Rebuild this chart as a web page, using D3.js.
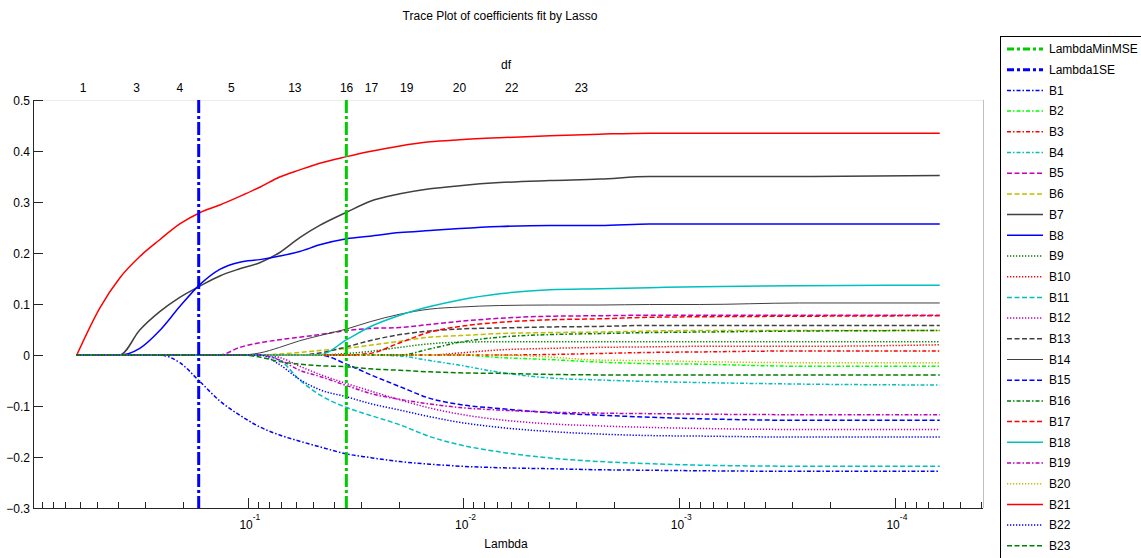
<!DOCTYPE html>
<html>
<head>
<meta charset="utf-8">
<script src="https://cdn.jsdelivr.net/npm/d3@7"></script>
<style>
  body { margin: 0; background: #fff; }
  svg text { font-family: "Liberation Sans", Arial, Helvetica, sans-serif; fill: #000; }
</style>
</head>
<body>
<div id="chart"></div>
<script>
// lambda grid (descending)
var lambdas = [0.6204, 0.4854, 0.3921, 0.3167, 0.2559, 0.2066, 0.1669, 0.1348, 0.1089, 0.0880,
  0.0711, 0.0574, 0.0464, 0.0348, 0.0272, 0.0197, 0.0143, 0.0104, 0.00679, 0.00398,
  0.00233, 0.00137, 0.000803, 0.000276, 0.0000619];

// coefficient traces, one value per lambda
var B1  = [0, 0, 0, 0, 0, -0.015, -0.052, -0.090, -0.118, -0.141, -0.157, -0.169, -0.180, -0.194, -0.201, -0.209, -0.214, -0.218, -0.221, -0.223, -0.225, -0.226, -0.227, -0.228, -0.228];
var B2  = [0, 0, 0, 0, 0, 0, 0, 0, 0, 0, 0, 0, 0, 0, 0, 0, 0, 0, -0.005, -0.009, -0.014, -0.017, -0.018, -0.022, -0.022];
var B3  = [0, 0, 0, 0, 0, 0, 0, 0, 0, 0, 0, 0, 0, 0, 0, 0, 0, 0, 0, 0.001, 0.003, 0.005, 0.006, 0.008, 0.008];
var B4  = [0, 0, 0, 0, 0, 0, 0, 0, 0, 0, 0, 0, 0, 0, 0, -0.002, -0.011, -0.020, -0.034, -0.045, -0.049, -0.052, -0.054, -0.057, -0.059];
var B5  = [0, 0, 0, 0, 0, 0, 0, 0, 0.015, 0.024, 0.030, 0.035, 0.040, 0.048, 0.052, 0.054, 0.060, 0.066, 0.072, 0.076, 0.077, 0.078, 0.078, 0.078, 0.078];
var B6  = [0, 0, 0, 0, 0, 0, 0, 0, 0, 0, 0.002, 0.005, 0.009, 0.013, 0.019, 0.027, 0.035, 0.038, 0.042, 0.044, 0.045, 0.047, 0.048, 0.048, 0.048];
var B7  = [0, 0, 0, 0.049, 0.085, 0.113, 0.135, 0.155, 0.169, 0.181, 0.201, 0.230, 0.254, 0.280, 0.301, 0.316, 0.326, 0.332, 0.338, 0.342, 0.345, 0.350, 0.350, 0.350, 0.352];
var B8  = [0, 0, 0, 0.013, 0.048, 0.095, 0.138, 0.168, 0.182, 0.187, 0.194, 0.203, 0.216, 0.228, 0.233, 0.240, 0.244, 0.248, 0.252, 0.254, 0.254, 0.257, 0.257, 0.257, 0.257];
var B9  = [0, 0, 0, 0, 0, 0, 0, 0, 0, 0, 0, 0, 0, 0.003, 0.007, 0.015, 0.022, 0.025, 0.026, 0.026, 0.026, 0.026, 0.026, 0.026, 0.026];
var B10 = [0, 0, 0, 0, 0, 0, 0, 0, 0, 0, 0, 0, 0, 0, 0, 0, 0, 0.004, 0.010, 0.013, 0.015, 0.016, 0.017, 0.017, 0.020];
var B11 = [0, 0, 0, 0, 0, 0, 0, 0, 0, 0, -0.010, -0.049, -0.078, -0.103, -0.118, -0.137, -0.160, -0.176, -0.190, -0.202, -0.209, -0.213, -0.216, -0.218, -0.218];
var B12 = [0, 0, 0, 0, 0, 0, 0, 0, 0, 0, -0.005, -0.022, -0.038, -0.056, -0.070, -0.088, -0.104, -0.116, -0.127, -0.135, -0.139, -0.142, -0.144, -0.146, -0.146];
var B13 = [0, 0, 0, 0, 0, 0, 0, 0, 0, 0, 0, 0, 0.004, 0.016, 0.028, 0.040, 0.047, 0.051, 0.053, 0.055, 0.056, 0.058, 0.058, 0.058, 0.058];
var B14 = [0, 0, 0, 0, 0, 0, 0, 0, 0, 0.004, 0.015, 0.028, 0.038, 0.051, 0.065, 0.080, 0.090, 0.094, 0.097, 0.098, 0.098, 0.099, 0.099, 0.102, 0.102];
var B15 = [0, 0, 0, 0, 0, 0, 0, 0, 0, 0, 0, 0, 0, -0.018, -0.038, -0.062, -0.085, -0.097, -0.105, -0.113, -0.118, -0.122, -0.125, -0.128, -0.128];
var B16 = [0, 0, 0, 0, 0, 0, 0, 0, 0, 0, 0, 0, 0, 0, 0, 0, 0.012, 0.025, 0.035, 0.040, 0.042, 0.044, 0.045, 0.047, 0.048];
var B17 = [0, 0, 0, 0, 0, 0, 0, 0, 0, 0, 0, 0, 0, 0, 0.003, 0.024, 0.045, 0.056, 0.064, 0.069, 0.071, 0.074, 0.075, 0.076, 0.077];
var B18 = [0, 0, 0, 0, 0, 0, 0, 0, 0, 0, 0, 0, 0, 0.030, 0.055, 0.078, 0.095, 0.108, 0.120, 0.128, 0.130, 0.132, 0.134, 0.136, 0.137];
var B19 = [0, 0, 0, 0, 0, 0, 0, 0, 0, 0, -0.010, -0.030, -0.042, -0.060, -0.075, -0.087, -0.096, -0.103, -0.108, -0.112, -0.114, -0.115, -0.116, -0.117, -0.117];
var B20 = [0, 0, 0, 0, 0, 0, 0, 0, 0, 0, 0, 0, 0, 0, 0, 0, 0, 0, 0, -0.004, -0.010, -0.011, -0.013, -0.015, -0.015];
var B21 = [0, 0.092, 0.151, 0.193, 0.226, 0.257, 0.279, 0.294, 0.311, 0.329, 0.349, 0.363, 0.376, 0.389, 0.399, 0.410, 0.418, 0.422, 0.426, 0.430, 0.433, 0.435, 0.435, 0.435, 0.435];
var B22 = [0, 0, 0, 0, 0, 0, 0, 0, 0, 0, -0.019, -0.048, -0.068, -0.082, -0.095, -0.108, -0.121, -0.132, -0.142, -0.150, -0.155, -0.158, -0.159, -0.161, -0.161];
var B23 = [0, 0, 0, 0, 0, 0, 0, 0, 0, -0.004, -0.013, -0.018, -0.021, -0.023, -0.027, -0.030, -0.033, -0.035, -0.036, -0.038, -0.039, -0.039, -0.039, -0.039, -0.039];

var seriesNames = ["B1", "B2", "B3", "B4", "B5", "B6", "B7", "B8", "B9", "B10", "B11", "B12",
  "B13", "B14", "B15", "B16", "B17", "B18", "B19", "B20", "B21", "B22", "B23"];
var seriesValues = [B1, B2, B3, B4, B5, B6, B7, B8, B9, B10, B11, B12,
  B13, B14, B15, B16, B17, B18, B19, B20, B21, B22, B23];

// chosen lambdas
var lambdaMinMSE = 0.0349;
var lambda1SE = 0.1688;

// df axis on top
var dfLambdas = [0.580, 0.328, 0.2066, 0.119, 0.0605, 0.0348, 0.0267, 0.01832, 0.01043, 0.00597, 0.00284];
var dfLabels = ["1", "3", "4", "5", "13", "16", "17", "19", "20", "22", "23"];

var yTicks = [0.5, 0.4, 0.3, 0.2, 0.1, 0, -0.1, -0.2, -0.3];
var xMajor = [1e-1, 1e-2, 1e-3, 1e-4];
var xExp = ["-1", "-2", "-3", "-4"];

// line styles (MATLAB-ish)
var C = { b: "#0000ff", g: "#00ff00", r: "#ff0000", c: "#00bfbf", m: "#bf00bf", y: "#bfbf00", k: "#404040", dg: "#008000" };
var DASHDOT = "4,2,1.5,2", DASH = "5,2.5", DOT = "1.3,1.7", SOLID = null;
var styles = [
  [C.b, DASHDOT], [C.g, DASHDOT], [C.r, DASHDOT], [C.c, DASHDOT],
  [C.m, DASH], [C.y, DASH], [C.k, SOLID], [C.b, SOLID],
  [C.dg, DOT], [C.r, DOT], [C.c, DASH], [C.m, DOT],
  [C.k, DASH], [C.k, SOLID], [C.b, DASH], [C.dg, DASHDOT],
  [C.r, DASH], [C.c, SOLID], [C.m, DASHDOT], [C.y, DOT],
  [C.r, SOLID], [C.b, DOT], [C.dg, DASH]
];

var width = 1141, height = 558;
var plotLeft = 33, plotRight = 983, plotTop = 100, plotBottom = 508;

var svg = d3.select("#chart").append("svg")
  .attr("width", width)
  .attr("height", height);

svg.append("rect").attr("width", width).attr("height", height).attr("fill", "#fff");

var x = d3.scaleLog().domain([0.99, 3.9e-5]).range([plotLeft, plotRight]);
var y = d3.scaleLinear().domain([-0.3, 0.5]).range([plotBottom, plotTop]);

svg.append("defs").append("clipPath").attr("id", "plotclip")
  .append("rect").attr("x", plotLeft).attr("y", plotTop)
  .attr("width", plotRight - plotLeft).attr("height", plotBottom - plotTop);

// box
svg.append("line").attr("x1", plotLeft).attr("x2", plotRight).attr("y1", plotTop + 0.5).attr("y2", plotTop + 0.5)
  .attr("stroke", "#ebebeb");
svg.append("line").attr("x1", plotRight + 0.5).attr("x2", plotRight + 0.5).attr("y1", plotTop).attr("y2", plotBottom)
  .attr("stroke", "#c0c0c0");

// traces
var line = d3.line()
  .x(function(d) { return x(d[0]); })
  .y(function(d) { return y(d[1]); })
  .curve(d3.curveMonotoneX);

var plot = svg.append("g").attr("clip-path", "url(#plotclip)");

seriesValues.forEach(function(vals, i) {
  var pts = vals.map(function(v, j) { return [lambdas[j], v]; });
  plot.append("path")
    .attr("d", line(pts))
    .attr("fill", "none")
    .attr("stroke", styles[i][0])
    .attr("stroke-width", seriesNames[i] === "B14" ? 1 : 1.5)
    .attr("stroke-dasharray", styles[i][1]);
});

// vertical lambda lines
var vlines = [[lambdaMinMSE, "#00cc00"], [lambda1SE, "#0000ff"]];
vlines.forEach(function(v) {
  plot.append("line")
    .attr("x1", x(v[0])).attr("x2", x(v[0]))
    .attr("y1", plotTop).attr("y2", plotBottom)
    .attr("stroke", v[1])
    .attr("stroke-width", 3)
    .attr("stroke-dasharray", "13,3,3,3");
});

// axes lines
svg.append("line").attr("x1", plotLeft + 0.5).attr("x2", plotLeft + 0.5).attr("y1", plotTop).attr("y2", plotBottom)
  .attr("stroke", "#262626");
svg.append("line").attr("x1", plotLeft).attr("x2", plotRight).attr("y1", plotBottom + 0.5).attr("y2", plotBottom + 0.5)
  .attr("stroke", "#262626");

// y ticks
yTicks.forEach(function(t) {
  var yy = Math.round(y(t)) + 0.5;
  svg.append("line").attr("x1", plotLeft).attr("x2", plotLeft + 10).attr("y1", yy).attr("y2", yy)
    .attr("stroke", "#262626");
  svg.append("text").attr("x", plotLeft - 3).attr("y", yy).attr("dy", "0.35em")
    .attr("text-anchor", "end").style("font-size", "12px").text(t === 0 ? "0" : d3.format("")(t));
});

// x ticks (log, reversed)
var minor = x.ticks();
minor.forEach(function(t) {
  var xx = Math.round(x(t)) + 0.5;
  if (xx < plotLeft || xx > plotRight + 1) return;
  var isMajor = xMajor.some(function(m) { return Math.abs(m - t) / m < 1e-6; });
  svg.append("line").attr("x1", xx).attr("x2", xx)
    .attr("y1", plotBottom).attr("y2", plotBottom - (isMajor ? 10 : 6))
    .attr("stroke", "#262626");
});

xMajor.forEach(function(t, i) {
  var xx = x(t);
  svg.append("text").attr("x", xx + 5).attr("y", 529).attr("text-anchor", "end")
    .style("font-size", "12px").text("10");
  svg.append("text").attr("x", xx + 5).attr("y", 520).style("font-size", "8.5px").text(xExp[i]);
});

// df axis
dfLambdas.forEach(function(l, i) {
  svg.append("text").attr("x", x(l)).attr("y", 92).attr("text-anchor", "middle")
    .style("font-size", "12px").text(dfLabels[i]);
});

svg.append("text").attr("x", 506).attr("y", 69).attr("text-anchor", "middle")
  .style("font-size", "12px").text("df");
svg.append("text").attr("x", 500).attr("y", 20).attr("text-anchor", "middle")
  .style("font-size", "12px").text("Trace Plot of coefficients fit by Lasso");
svg.append("text").attr("x", 506).attr("y", 548).attr("text-anchor", "middle")
  .style("font-size", "12px").text("Lambda");

// legend
var legend = svg.append("g");
legend.append("rect").attr("x", 1000.5).attr("y", 36.5).attr("width", 200).attr("height", 600)
  .attr("fill", "#fff").attr("stroke", "#000");

var legendItems = [["LambdaMinMSE", "#00cc00", "7,3,3,3", 3], ["Lambda1SE", "#0000ff", "7,3,3,3", 3]];
seriesNames.forEach(function(n, i) {
  legendItems.push([n, styles[i][0], styles[i][1], n === "B14" ? 1 : 1.5]);
});

legendItems.forEach(function(it, i) {
  var yy = 49 + i * 20.7;
  legend.append("line").attr("x1", 1007).attr("x2", 1043).attr("y1", yy).attr("y2", yy)
    .attr("stroke", it[1]).attr("stroke-width", it[3]).attr("stroke-dasharray", it[2]);
  legend.append("text").attr("x", 1049).attr("y", yy).attr("dy", "0.35em")
    .style("font-size", "12px").text(it[0]);
});
</script>
</body>
</html>
